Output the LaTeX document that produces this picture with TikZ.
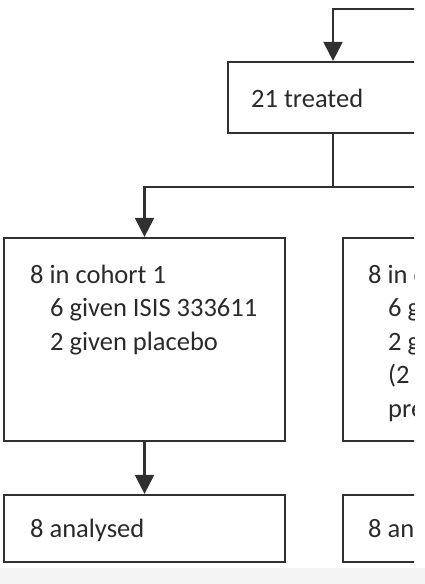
\documentclass[tikz,border=0pt]{standalone}
\usepackage{fontspec}
\setmainfont{Carlito}
\usetikzlibrary{arrows.meta}
\definecolor{ink}{HTML}{303030}
\definecolor{txt}{HTML}{2a2a2a}
\begin{document}
\begin{tikzpicture}[x=1pt,y=-1pt,
  box/.style={draw=ink,line width=2.2pt,minimum width=#1,inner sep=0pt},
  box/.default=281pt,
  lbl/.style={anchor=base west,inner sep=0pt,text=txt,font=\fontsize{26.5}{31}\selectfont},
  conn/.style={draw=ink,line width=2.2pt},
  arr/.style={conn,-{Triangle[width=19pt,length=19pt]}}]
\useasboundingbox (0,0) rectangle (425,584);
\fill[gray!9] (0,568) rectangle (425,584);
\begin{scope}
\clip (0,0) rectangle (414,584);
% boxes
\node[box=210pt,minimum height=71pt] (treated) at (333,97.5) {};
\node[box,minimum height=203pt] (coh1) at (144.5,339.5) {};
\node[box,minimum height=203pt] (coh2) at (483.5,339.5) {};
\node[box,minimum height=67pt] (an1) at (144.5,528.5) {};
\node[box,minimum height=67pt] (an2) at (483.5,528.5) {};
% connectors
\coordinate (in) at (420,9);
\coordinate (split) at (333,187);
\draw[arr] (in) -| (treated.north);
\draw[conn] (treated.south) -- (split);
\draw[arr] (split) -| (coh1.north);
\draw[arr] (split) -| (coh2.north);
\draw[arr] (coh1.south) -- (an1.north);
\draw[arr] (coh2.south) -- (an2.north);
% texts
\node[lbl] (t0) at (251,107) {21 treated};
\node[lbl] (t1) at (30,283) {8 in cohort 1};
\node[lbl] (t2) at (50,316.5) {6 given ISIS 333611};
\node[lbl] (t3) at (50,350) {2 given placebo};
\node[lbl] (u1) at (368,283) {8 in cohort 2};
\node[lbl] (u2) at (388,316.5) {6 given ISIS 333611};
\node[lbl] (u3) at (388,350) {2 given placebo};
\node[lbl] (u4) at (388,383.5) {(2 re-enrolled from};
\node[lbl] (u5) at (388,417) {previous cohort)};
\node[lbl] (a1) at (30,537) {8 analysed};
\node[lbl] (a2) at (368,537) {8 analysed};
\end{scope}
\end{tikzpicture}
\end{document}
